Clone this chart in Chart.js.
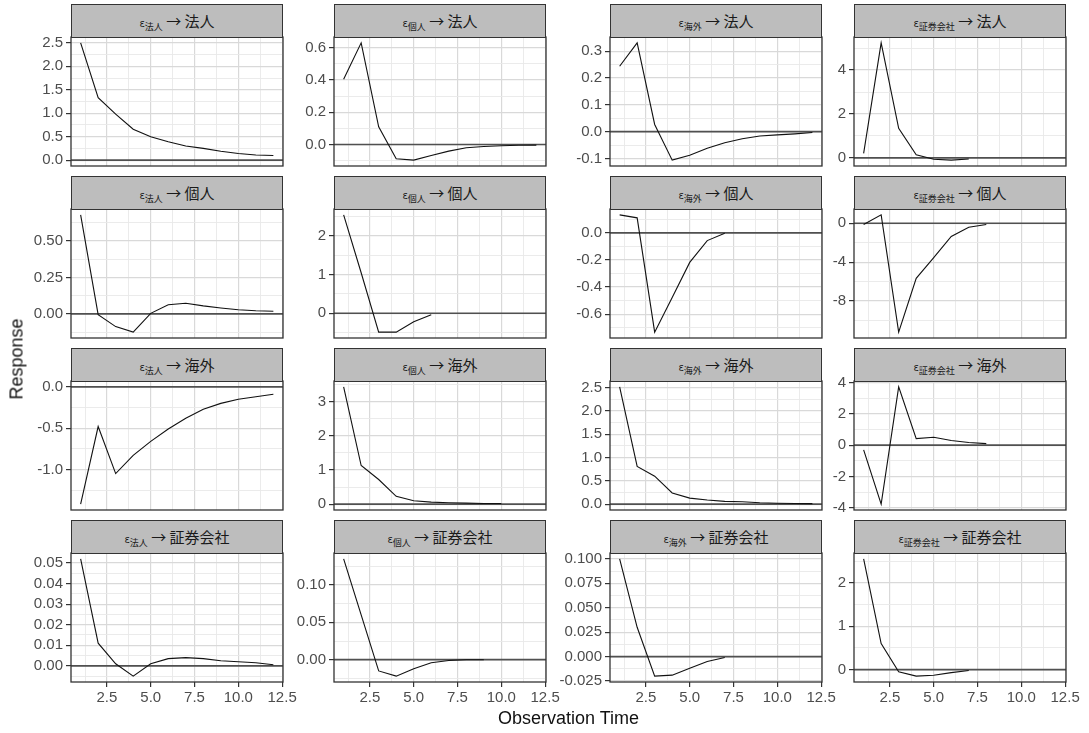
<!DOCTYPE html>
<html>
<head>
<meta charset="utf-8">
<script src="https://cdn.jsdelivr.net/npm/chart.js@4.4.1/dist/chart.umd.min.js"></script>
<style>
  body { margin: 0; background: #fff; width: 1089px; height: 733px; position: relative; overflow: hidden; }
  canvas.panel { position: absolute; }
  .strip {
    position: absolute; box-sizing: border-box; width: 212px; height: 34px;
    background: #bdbdbd; border: 1px solid #333; text-align: center;
    font-family: 'Noto Sans CJK JP', sans-serif; font-size: 15px; color: #1a1a1a; line-height: 31px;
  }
  .strip .eps { font-family: 'DejaVu Sans', sans-serif; font-size: 10px; }
  .strip sub { font-size: 9px; vertical-align: -3px; }
  .axis-title { position: absolute; font-family: 'Liberation Sans', Arial, sans-serif; font-size: 18px; color: #111; white-space: nowrap; }
</style>
</head>
<body>
<script>
// impulse responses (horizon 1..12)
const steps = [1, 2, 3, 4, 5, 6, 7, 8, 9, 10, 11, 12];
const shocks = ['法人', '個人', '海外', '証券会社'];      // columns
const responses = ['法人', '個人', '海外', '証券会社'];   // rows

// response: 法人
const corpToCorp    = [2.50, 1.33, 0.98, 0.66, 0.50, 0.39, 0.30, 0.25, 0.19, 0.14, 0.11, 0.10];
const indivToCorp   = [0.405, 0.63, 0.11, -0.088, -0.097, -0.068, -0.041, -0.02, -0.012, -0.008, -0.005, -0.004];
const foreignToCorp = [0.244, 0.331, 0.027, -0.106, -0.088, -0.062, -0.041, -0.026, -0.016, -0.012, -0.008, -0.003];
const brokerToCorp  = [0.21, 5.24, 1.35, 0.14, -0.06, -0.10, -0.05];
// response: 個人
const corpToIndiv    = [0.68, -0.005, -0.087, -0.125, 0.004, 0.063, 0.073, 0.055, 0.041, 0.029, 0.022, 0.018];
const indivToIndiv   = [2.55, 1.05, -0.49, -0.49, -0.22, -0.04];
const foreignToIndiv = [0.133, 0.111, -0.733, -0.477, -0.218, -0.057, -0.003];
const brokerToIndiv  = [-0.13, 0.86, -11.2, -5.67, -3.53, -1.36, -0.41, -0.13];
// response: 海外
const corpToForeign    = [-1.42, -0.48, -1.05, -0.83, -0.66, -0.51, -0.38, -0.27, -0.20, -0.15, -0.12, -0.09];
const indivToForeign   = [3.43, 1.13, 0.72, 0.23, 0.10, 0.06, 0.04, 0.03, 0.02, 0.02];
const foreignToForeign = [2.52, 0.81, 0.60, 0.24, 0.13, 0.09, 0.06, 0.05, 0.03, 0.02, 0.015, 0.01];
const brokerToForeign  = [-0.30, -3.76, 3.72, 0.42, 0.51, 0.30, 0.17, 0.10];
// response: 証券会社
const corpToBroker    = [0.052, 0.011, 0.001, -0.005, 0.001, 0.0035, 0.004, 0.0035, 0.0025, 0.002, 0.0015, 0.0005];
const indivToBroker   = [0.135, 0.06, -0.015, -0.022, -0.012, -0.004, -0.001, 0, 0];
const foreignToBroker = [0.100, 0.03, -0.020, -0.019, -0.012, -0.005, -0.001];
const brokerToBroker  = [2.55, 0.60, -0.05, -0.15, -0.13, -0.07, -0.02];

const series = [
  [corpToCorp, indivToCorp, foreignToCorp, brokerToCorp],
  [corpToIndiv, indivToIndiv, foreignToIndiv, brokerToIndiv],
  [corpToForeign, indivToForeign, foreignToForeign, brokerToForeign],
  [corpToBroker, indivToBroker, foreignToBroker, brokerToBroker]
];

// major y tick step for each panel (minor lines sit halfway)
const yTickSteps = [
  [0.5, 0.2, 0.1, 2],
  [0.25, 1, 0.2, 4],
  [0.5, 1, 0.5, 2],
  [0.01, 0.05, 0.025, 1]
];
const xTickStep = 2.5;
const xTitle = 'Observation Time';
const yTitle = 'Response';

// layout
const panelLeft = [71, 334, 610, 854];
const stripTop = [4, 176, 348, 520];
const panelW = 212, stripH = 33, plotH = 129, axisW = 62;
const padR = 20, padV = 10, xAxisH = 27;

Chart.defaults.font.family = "'Liberation Sans', Arial, sans-serif";
Chart.defaults.font.size = 15;
Chart.defaults.color = '#4d4d4d';

const frame = {
  id: 'frame',
  afterDraw(chart) {
    const a = chart.chartArea, ctx = chart.ctx;
    ctx.save();
    ctx.strokeStyle = '#333';
    ctx.lineWidth = 1.3;
    ctx.strokeRect(a.left, a.top, a.right - a.left, a.bottom - a.top);
    ctx.restore();
  }
};

function gridTicks(min, max, major) {
  const half = major / 2, out = [];
  for (let k = Math.ceil(min / half - 1e-9); k * half <= max + 1e-9; k++) {
    let v = +(k * half).toFixed(8);
    if (Math.abs(v) < 1e-12) v = 0;
    out.push({ value: v, isMajor: Math.abs(k) % 2 === 0 });
  }
  return out;
}
function decimals(step) {
  return (String(step).split('.')[1] || '').length;
}
function expand(lo, hi) {
  const pad = (hi - lo) * 0.05;
  return [lo - pad, hi + pad];
}

const [xMin, xMax] = expand(Math.min(...steps), Math.max(...steps));

function gridColor(c) { return c.tick && c.tick.isMajor ? '#d9d9d9' : '#e9e9e9'; }
function gridWidth(c) { return c.tick && c.tick.isMajor ? 1.2 : 0.9; }
function tickColor(c) { return c.tick && c.tick.isMajor ? '#333' : 'rgba(0,0,0,0)'; }

function drawPanel(row, col) {
  const values = series[row][col];
  const bottom = row === 3;
  const [yMin, yMax] = expand(Math.min(0, ...values), Math.max(0, ...values));
  const yStep = yTickSteps[row][col];
  const yDec = decimals(yStep);

  const canvas = document.createElement('canvas');
  canvas.className = 'panel';
  const w = axisW + panelW + padR;
  const h = padV + plotH + (bottom ? xAxisH : padV);
  canvas.width = w; canvas.height = h;
  canvas.style.left = (panelLeft[col] - axisW) + 'px';
  canvas.style.top = (stripTop[row] + stripH - padV) + 'px';
  document.body.appendChild(canvas);

  new Chart(canvas, {
    type: 'line',
    data: {
      datasets: [
        {
          data: values.map((v, i) => ({ x: steps[i], y: v })),
          borderColor: '#111', borderWidth: 1.1, pointRadius: 0, tension: 0, order: 1
        },
        {
          data: [{ x: xMin, y: 0 }, { x: xMax, y: 0 }],
          borderColor: '#505050', borderWidth: 1.7, pointRadius: 0, order: 2
        }
      ]
    },
    options: {
      responsive: false,
      animation: false,
      layout: { padding: { left: 0, right: padR, top: padV, bottom: bottom ? 0 : padV } },
      plugins: { legend: { display: false }, tooltip: { enabled: false } },
      scales: {
        x: {
          type: 'linear', min: xMin, max: xMax, bounds: 'data',
          border: { display: false },
          grid: { color: gridColor, lineWidth: gridWidth, tickColor: tickColor, drawTicks: bottom, tickLength: 5, tickWidth: 1.2 },
          ticks: {
            display: bottom, autoSkip: false, maxRotation: 0, padding: 2,
            callback: (v, i, ticks) => ticks[i].isMajor ? v.toFixed(1) : ''
          },
          afterBuildTicks: s => { s.ticks = gridTicks(xMin, xMax, xTickStep); },
          afterFit: s => { s.height = bottom ? xAxisH : 0; s.paddingLeft = 0; s.paddingRight = 0; }
        },
        y: {
          type: 'linear', min: yMin, max: yMax, bounds: 'data',
          border: { display: false },
          grid: { color: gridColor, lineWidth: gridWidth, tickColor: tickColor, drawTicks: true, tickLength: 5, tickWidth: 1.2 },
          ticks: {
            autoSkip: false, padding: 3,
            callback: (v, i, ticks) => ticks[i].isMajor ? v.toFixed(yDec) : ''
          },
          afterBuildTicks: s => { s.ticks = gridTicks(yMin, yMax, yStep); },
          afterFit: s => { s.width = axisW; s.paddingTop = 0; s.paddingBottom = 0; }
        }
      }
    },
    plugins: [frame]
  });

  const strip = document.createElement('div');
  strip.className = 'strip';
  strip.style.left = panelLeft[col] + 'px';
  strip.style.top = stripTop[row] + 'px';
  strip.innerHTML = '<span class="eps">ε</span><sub>' + shocks[col] + '</sub> → ' + responses[row];
  document.body.appendChild(strip);
}

for (let r = 0; r < 4; r++) {
  for (let c = 0; c < 4; c++) drawPanel(r, c);
}

const xt = document.createElement('div');
xt.className = 'axis-title';
xt.textContent = xTitle;
xt.style.left = '0px'; xt.style.top = '708px'; xt.style.width = '1137px'; xt.style.textAlign = 'center';
document.body.appendChild(xt);

const yt = document.createElement('div');
yt.className = 'axis-title';
yt.textContent = yTitle;
yt.style.left = '17px'; yt.style.top = '359px';
yt.style.transform = 'translate(-50%, -50%) rotate(-90deg)';
document.body.appendChild(yt);
</script>
</body>
</html>
